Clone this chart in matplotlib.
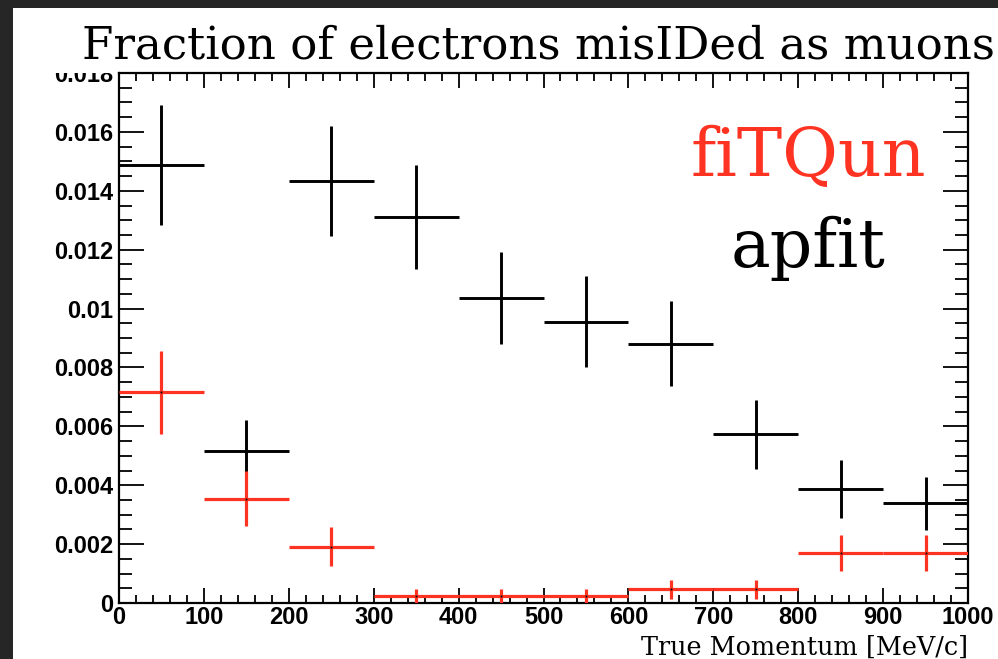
import matplotlib.pyplot as plt
import matplotlib.patches as patches
from matplotlib import font_manager
from matplotlib.ticker import MultipleLocator, FormatStrFormatter
import numpy as np

# momentum bins [MeV/c], 100 wide
bin_centers = [50, 150, 250, 350, 450, 550, 650, 750, 850, 950]
bin_half = 50

# fraction of electrons misIDed as muons
apfit = [0.01488, 0.00515, 0.01433, 0.01311, 0.01037, 0.00956, 0.00881, 0.00573, 0.00387, 0.00338]
apfit_err = [0.00203, 0.00107, 0.00186, 0.00178, 0.00156, 0.00154, 0.00143, 0.00117, 0.00097, 0.00090]
fitqun = [0.00715, 0.00354, 0.00191, 0.00024, 0.00024, 0.00024, 0.00046, 0.00046, 0.00169, 0.00169]
fitqun_err = [0.00140, 0.00094, 0.00066, 0.00023, 0.00023, 0.00023, 0.00033, 0.00033, 0.00062, 0.00062]

red = '#ff3322'

# plain (not narrow) Liberation Sans Bold for the tick labels
bold_file = None
for f in font_manager.findSystemFonts():
    if f.endswith('LiberationSans-Bold.ttf'):
        bold_file = f
        break
if bold_file:
    tick_font = font_manager.FontProperties(fname=bold_file, size=17)
else:
    tick_font = font_manager.FontProperties(family='DejaVu Sans', weight='bold', size=16)

fig = plt.figure(figsize=(9.98, 6.59), dpi=100)
fig.patch.set_facecolor('#262626')

# white slide panel
fig.patches.append(patches.Rectangle((13 / 998, 0), 1, (659 - 8) / 659, transform=fig.transFigure,
                                     facecolor='white', edgecolor='none', zorder=-10))

ax = fig.add_axes([119 / 998, 56 / 659, 849 / 998, 530 / 659])
ax.set_facecolor('white')

ax.errorbar(bin_centers, apfit, xerr=bin_half, yerr=apfit_err, fmt='none',
            ecolor='black', elinewidth=2.1, capsize=0, zorder=3)
ax.errorbar(bin_centers, fitqun, xerr=bin_half, yerr=fitqun_err, fmt='s', ms=1.3,
            mfc='black', mec='none', ecolor=red, elinewidth=2.3, capsize=0, zorder=4)

ax.set_xlim(0, 1000)
ax.set_ylim(0, 0.018)

ax.xaxis.set_major_locator(MultipleLocator(100))
ax.xaxis.set_minor_locator(MultipleLocator(20))
ax.yaxis.set_major_locator(MultipleLocator(0.002))
ax.yaxis.set_minor_locator(MultipleLocator(0.0005))

def ylab(v, pos):
    if abs(v) < 1e-12:
        return '0'
    return ('%.3f' % v).rstrip('0')

ax.yaxis.set_major_formatter(plt.FuncFormatter(ylab))
ax.xaxis.set_major_formatter(FormatStrFormatter('%d'))

ax.tick_params(axis='x', which='major', direction='in', length=10.8, width=1.3,
               top=True, bottom=True, pad=2)
ax.tick_params(axis='x', which='minor', direction='in', length=5.8, width=1.3, top=True, bottom=True)
ax.tick_params(axis='y', which='major', direction='in', length=18, width=1.3,
               left=True, right=True, pad=4)
ax.tick_params(axis='y', which='minor', direction='in', length=9.4, width=1.3, left=True, right=True)
for lab in ax.get_xticklabels() + ax.get_yticklabels():
    lab.set_fontproperties(tick_font)

for s in ax.spines.values():
    s.set_linewidth(1.6)

# title box hides the top of the 0.018 label
fig.patches.append(patches.Rectangle((0.02, (659 - 72.7) / 659), 0.097, (72.7 - 8) / 659,
                                     transform=fig.transFigure,
                                     facecolor='white', edgecolor='none', zorder=5))

fig.text(539 / 998, (659 - 46) / 659, 'Fraction of electrons misIDed as muons', family='DejaVu Serif',
         fontsize=32.5, ha='center', va='center', zorder=6)

ax.text(812, 0.0145, 'fiTQun', color=red, family='DejaVu Serif', fontsize=49, ha='center', va='baseline')
ax.text(812, 0.0114, 'apfit', color='black', family='DejaVu Serif', fontsize=48, ha='center', va='baseline')

fig.text(968 / 998, (659 - 647) / 659, 'True Momentum [MeV/c]', family='DejaVu Serif',
         fontsize=18.4, ha='right', va='center')

fig.savefig('out.png', dpi=100, facecolor=fig.get_facecolor())
